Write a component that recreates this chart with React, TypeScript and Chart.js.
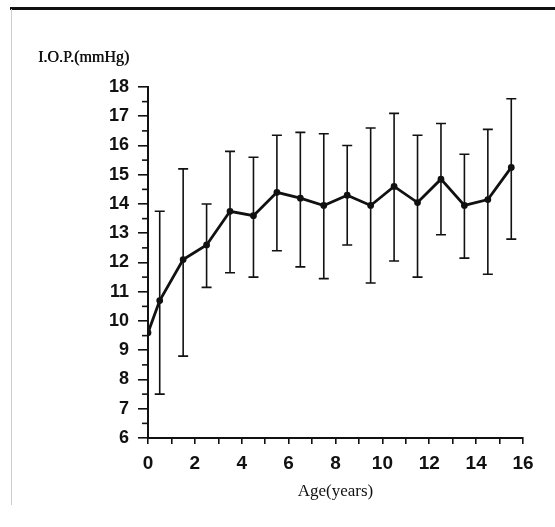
import React, { useEffect, useRef } from "react";
import { Chart, registerables } from "chart.js";

Chart.register(...registerables);

const ages = [0, 0.5, 1.5, 2.5, 3.5, 4.5, 5.5, 6.5, 7.5, 8.5, 9.5, 10.5, 11.5, 12.5, 13.5, 14.5, 15.5];
const meanIOP = [9.6, 10.7, 12.1, 12.6, 13.75, 13.6, 14.4, 14.2, 13.95, 14.3, 13.95, 14.6, 14.05, 14.85, 13.95, 14.15, 15.25];
const upperIOP = [null, 13.75, 15.2, 14.0, 15.8, 15.6, 16.35, 16.45, 16.4, 16.0, 16.6, 17.1, 16.35, 16.75, 15.7, 16.55, 17.6];
const lowerIOP = [null, 7.5, 8.8, 11.15, 11.65, 11.5, 12.4, 11.85, 11.45, 12.6, 11.3, 12.05, 11.5, 12.95, 12.15, 11.6, 12.8];
const yTitle = "I.O.P.(mmHg)";
const xTitle = "Age(years)";

const framePlugin = {
  id: "frame",
  beforeDraw(chart: any) {
    const { ctx } = chart;
    ctx.save();
    ctx.fillStyle = "#fff";
    ctx.fillRect(0, 0, chart.width, chart.height);
    ctx.strokeStyle = "#111";
    ctx.lineWidth = 3;
    ctx.beginPath();
    ctx.moveTo(10, 8.5);
    ctx.lineTo(chart.width, 8.5);
    ctx.stroke();
    ctx.strokeStyle = "#c8d0d0";
    ctx.lineWidth = 1;
    ctx.beginPath();
    ctx.moveTo(11.5, 9);
    ctx.lineTo(11.5, 505);
    ctx.stroke();
    ctx.fillStyle = "#111";
    ctx.font = "16px 'Liberation Serif'";
    ctx.textBaseline = "alphabetic";
    ctx.textAlign = "left";
    ctx.fillText(yTitle, 38, 62);
    ctx.fillText(yTitle, 38.4, 62);
    ctx.restore();
  },
};

const errorBarPlugin = {
  id: "errorBars",
  afterDatasetsDraw(chart: any) {
    const { ctx } = chart;
    const xs = chart.scales.x;
    const ys = chart.scales.y;
    ctx.save();
    ctx.strokeStyle = "#111";
    ctx.lineWidth = 1.6;
    ages.forEach((a, i) => {
      const hi = upperIOP[i];
      const lo = lowerIOP[i];
      if (hi == null || lo == null) return;
      const px = xs.getPixelForValue(a);
      const pyHi = ys.getPixelForValue(hi);
      const pyLo = ys.getPixelForValue(lo);
      ctx.beginPath();
      ctx.moveTo(px, pyHi);
      ctx.lineTo(px, pyLo);
      ctx.moveTo(px - 5, pyHi);
      ctx.lineTo(px + 5, pyHi);
      ctx.moveTo(px - 5, pyLo);
      ctx.lineTo(px + 5, pyLo);
      ctx.stroke();
    });
    // minor ticks on y axis
    const left = chart.chartArea.left;
    for (let v = ys.min; v <= ys.max; v += 0.5) {
      if (v % 1 === 0) continue;
      const py = ys.getPixelForValue(v);
      ctx.beginPath();
      ctx.moveTo(left - 6, py);
      ctx.lineTo(left, py);
      ctx.stroke();
    }
    ctx.restore();
  },
};

export default function App() {
  const ref = useRef<HTMLCanvasElement | null>(null);
  useEffect(() => {
    if (!ref.current) return;
    const chart = new Chart(ref.current, {
      type: "line",
      data: {
        datasets: [
          {
            data: ages.map((a, i) => ({ x: a, y: meanIOP[i] })),
            borderColor: "#111",
            backgroundColor: "#111",
            borderWidth: 2.8,
            pointRadius: 2,
            pointBackgroundColor: "#111",
            tension: 0,
          },
        ],
      },
      options: {
        responsive: false,
        animation: false,
        layout: { padding: { top: 87, right: 32, left: 0, bottom: 0 } },
        plugins: { legend: { display: false }, tooltip: { enabled: false }, title: { display: false } },
        scales: {
          x: {
            type: "linear",
            min: 0,
            max: 16,
            afterFit: (s: any) => {
              s.height = 89;
            },
            ticks: {
              stepSize: 1,
              autoSkip: false,
              maxRotation: 0,
              padding: 8,
              color: "#111",
              font: { family: "'Liberation Sans'", size: 19, weight: "bold" },
              callback: (v: any) => (Number(v) % 2 === 0 ? String(v) : ""),
            },
            grid: { drawOnChartArea: false, drawTicks: true, tickLength: 6, color: "#111", lineWidth: 1.6 },
            border: { display: true, color: "#111", width: 2 },
            title: {
              display: true,
              text: xTitle,
              color: "#111",
              font: { family: "'Liberation Serif'", size: 17 },
              padding: { top: 0, bottom: 25 },
            },
          },
          y: {
            type: "linear",
            min: 6,
            max: 18,
            afterFit: (s: any) => {
              s.width = 148;
            },
            ticks: {
              stepSize: 0.5,
              autoSkip: false,
              padding: 9,
              color: "#111",
              font: { family: "'Liberation Sans'", size: 18, weight: "bold" },
              callback: (v: any) => (Number(v) % 1 === 0 ? String(v) : ""),
            },
            grid: {
              drawOnChartArea: false,
              drawTicks: true,
              tickLength: 10,
              lineWidth: 1.6,
              color: (c: any) => (c.tick && c.tick.value % 1 === 0 ? "#111" : "rgba(0,0,0,0)"),
            },
            border: { display: true, color: "#111", width: 2 },
          },
        },
      },
      plugins: [framePlugin, errorBarPlugin],
    });
    return () => chart.destroy();
  }, []);
  return (
    <canvas
      ref={ref}
      width={555}
      height={527}
      style={{ position: "fixed", left: 0, top: 0, width: 555, height: 527 }}
    />
  );
}
